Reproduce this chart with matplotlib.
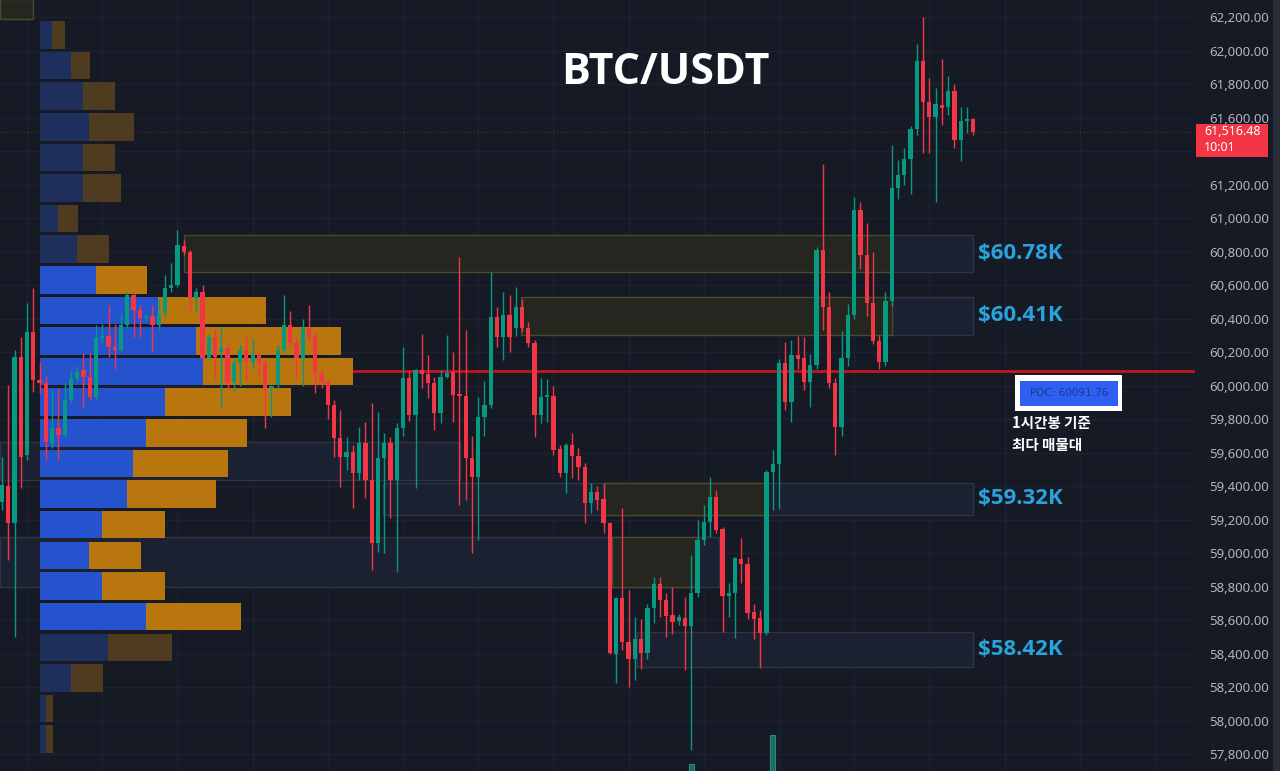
import matplotlib
matplotlib.use("Agg")
import matplotlib.pyplot as plt
import matplotlib.transforms as mtransforms
from matplotlib.patches import Rectangle

# ---- 1h candles (oldest -> newest) ----
opens = [59308, 59403, 59182, 60173, 59588, 60322, 60036, 60018, 59660, 59749,
         59707, 59916, 60048, 60095, 60054, 59934, 60287, 60299, 60233, 60215,
         60364, 60543, 60454, 60406, 60418, 60364, 60436, 60585, 60603, 60836,
         60800, 60525, 60561, 60167, 60293, 60203, 60227, 60024, 60137, 60215,
         60143, 60185, 60137, 59988, 60006, 60215, 60364, 60257, 60167, 60346,
         60293, 60078, 60024, 59887, 59690, 59576, 59606, 59481, 59660, 59439,
         59063, 59570, 59660, 59439, 59749, 60048, 59827, 60095, 60072, 60018,
         59839, 60054, 60084, 59952, 59940, 59570, 59457, 59815, 59887, 60412,
         60293, 60424, 60346, 60472, 60346, 60257, 59827, 59934, 59940, 59624,
         59481, 59648, 59582, 59516, 59301, 59367, 59325, 59182, 58400, 58734,
         58472, 58370, 58490, 58406, 58675, 58818, 58722, 58633, 58597, 58615,
         58567, 58764, 59081, 59188, 59337, 59146, 58746, 58764, 58967, 58937,
         58651, 58615, 58525, 59487, 59535, 60137, 59904, 60185, 60167, 60024,
         60125, 60812, 60472, 60018, 59755, 60167, 60424, 61051, 60782, 60496,
         60269, 60143, 60507, 61182, 61260, 61355, 61534, 61940, 61695, 61606,
         61677, 61665, 61761, 61468, 61582, 61594]
highs = [59576, 60006, 60215, 60293, 60496, 60585, 60140, 60060, 59976, 59988,
         60018, 60095, 60120, 60197, 60197, 60364, 60370, 60484, 60370, 60436,
         60561, 60561, 60484, 60430, 60484, 60520, 60663, 60734, 60931, 60872,
         60812, 60585, 60603, 60310, 60340, 60352, 60257, 60160, 60245, 60300,
         60280, 60200, 60160, 60006, 60245, 60543, 60450, 60290, 60400, 60484,
         60330, 60100, 60040, 59916, 59857, 59696, 59648, 59755, 59785, 59898,
         59845, 59720, 59696, 59779, 60233, 60090, 60100, 60311, 60185, 60054,
         60095, 60305, 60203, 60770, 60334, 59700, 59934, 60030, 60680, 60472,
         60561, 60540, 60591, 60520, 60380, 60275, 60048, 60040, 60000, 59648,
         59660, 59720, 59630, 59540, 59421, 59403, 59421, 59190, 58740, 59272,
         58782, 58621, 58609, 58700, 58860, 58860, 58764, 58800, 58640, 58740,
         58991, 59200, 59290, 59457, 59380, 59158, 58824, 58980, 59093, 58980,
         58700, 58663, 59500, 59620, 60161, 60263, 60275, 60300, 60293, 60191,
         60830, 61325, 60560, 60048, 60330, 60490, 61128, 61100, 60970, 60800,
         60305, 60560, 61440, 61350, 61420, 61552, 62042, 62203, 61839, 61780,
         61950, 61850, 61800, 61665, 61665, 61600]
lows = [59260, 58961, 58501, 59391, 59560, 59964, 59960, 59558, 59630, 59558,
        59695, 59898, 60030, 59875, 59916, 59916, 60257, 60173, 60100, 60200,
        60346, 60293, 60293, 60390, 60203, 60340, 60420, 60560, 60590, 60782,
        60454, 60442, 60155, 60160, 60050, 59870, 59988, 59970, 60000, 60030,
        60100, 60060, 59750, 59815, 59990, 60200, 60240, 60050, 60000, 60270,
        59960, 59990, 59800, 59576, 59397, 59499, 59272, 59440, 59331, 58902,
        59009, 59000, 59212, 58890, 59700, 59790, 59391, 59990, 59930, 59737,
        59779, 60048, 59785, 59290, 59320, 59003, 59080, 59700, 59870, 60233,
        60155, 60200, 60300, 60320, 60230, 59696, 59779, 59785, 59590, 59457,
        59361, 59450, 59439, 59182, 59242, 59260, 59122, 58400, 58227, 58424,
        58203, 58245, 58310, 58370, 58585, 58620, 58501, 58520, 58570, 58305,
        57827, 58740, 59050, 59100, 59120, 58531, 58621, 58495, 58824, 58610,
        58490, 58317, 58510, 59260, 59266, 59857, 59785, 60100, 59976, 59875,
        60100, 60334, 59990, 59588, 59700, 60120, 60400, 60700, 60420, 60250,
        60100, 60120, 60480, 61116, 61200, 61146, 61500, 61391, 61391, 61100,
        61560, 61620, 61420, 61343, 61510, 61500]
closes = [59409, 59182, 60173, 59576, 60322, 60036, 60015, 59666, 59749, 59707,
          59916, 60048, 60084, 60054, 59934, 60287, 60299, 60233, 60215, 60364,
          60543, 60454, 60406, 60412, 60364, 60424, 60585, 60603, 60842, 60800,
          60525, 60561, 60167, 60293, 60173, 60227, 60018, 60137, 60215, 60143,
          60185, 60137, 59988, 60000, 60215, 60364, 60257, 60167, 60346, 60293,
          60078, 60024, 59887, 59690, 59576, 59606, 59481, 59660, 59439, 59063,
          59570, 59660, 59439, 59749, 60048, 59827, 60095, 60072, 60018, 59839,
          60054, 60078, 59946, 59940, 59570, 59457, 59815, 59887, 60412, 60293,
          60424, 60293, 60472, 60346, 60257, 59827, 59934, 59946, 59618, 59481,
          59648, 59582, 59516, 59301, 59367, 59320, 59182, 58406, 58734, 58472,
          58370, 58490, 58406, 58675, 58818, 58722, 58627, 58591, 58621, 58567,
          58764, 59081, 59188, 59337, 59140, 58746, 58764, 58973, 58937, 58645,
          58609, 58525, 59487, 59535, 60137, 59904, 60185, 60161, 60024, 60125,
          60812, 60472, 60018, 59755, 60167, 60424, 61051, 60782, 60496, 60269,
          60143, 60507, 61182, 61260, 61355, 61534, 61940, 61695, 61606, 61683,
          61660, 61761, 61468, 61582, 61594, 61516.48]

# volume pane (only the two tallest bars reach into view)
vol_idx = [110, 123]
vol_val = [190, 1000]

# ---- volume profile (bins from bottom to top) ----
vp_low = [57800, 57983, 58166, 58348, 58531, 58714, 58897, 59080, 59262, 59445,
          59628, 59811, 59994, 60176, 60359, 60542, 60725, 60908, 61090, 61273,
          61456, 61639, 61822, 62004]
vp_buy = [6, 6, 31, 68, 106, 62, 49, 62, 87, 93, 106, 125,
          163, 156, 118, 56, 37, 18, 43, 43, 49, 43, 31, 12]
vp_sell = [7, 7, 32, 64, 95, 63, 52, 63, 89, 95, 101, 126,
           150, 145, 108, 51, 32, 20, 38, 32, 45, 32, 19, 13]
value_area = (4, 15)   # bins inside the value area (bright)
poc_price = 60091.76

# ---- supply / demand zones ----
zone_start = [-0.32, -0.32, 60.8, -0.32, 101.4, 142.1, 142.1, 29.05, 82.8, 96.1, 97.4]
zone_end = [4.95, 73.1, 155, 114.4, 155, 155, 155, 142.1, 142.1, 122.1, 110.9]
zone_low = [62190, 59439, 59230, 58800, 58322, 60681, 60304, 60681, 60304, 59230, 58800]
zone_high = [62310, 59666, 59421, 59099, 58531, 60901, 60531, 60901, 60531, 59421, 59099]
zone_kind = ['olive', 'blue', 'blue', 'blue', 'blue', 'blue', 'blue',
             'olive', 'olive', 'olive', 'olive']

level_text = ['$60.78K', '$60.41K', '$59.32K', '$58.42K']
level_price = [60790, 60418, 59325, 58427]

price_ticks = list(range(57800, 62201, 200))

BG = '#161a25'
GREEN, RED = '#089981', '#f23645'

fig = plt.figure(figsize=(12.8, 7.71), dpi=100, facecolor=BG)
ax = fig.add_axes([0, 0, 1195 / 1280, 1])
ax.set_facecolor(BG)
ax.set_xlim(-0.32, 190.4)
ax.set_ylim(57701, 62304)
for s in ax.spines.values():
    s.set_visible(False)

last_close = closes[-1]
ax.set_xticks(range(4, 190, 12))
ax.set_yticks(price_ticks)
# the tick sitting under the last-price tag is left blank
ax.set_yticklabels(["" if -150 < p - last_close < 0 else f"{p:,.2f}" for p in price_ticks],
                   family='Noto Sans')
ax.yaxis.tick_right()
ax.tick_params(axis='x', length=0, labelbottom=False)
ax.tick_params(axis='y', length=0, pad=10, labelcolor='#b2b5be', labelsize=9.5)
ax.grid(color='#1e2230', lw=1)
ax.set_axisbelow(True)

# zones
zone_fc = {'olive': '#24261f', 'blue': '#1b2130'}
zone_ec = {'olive': '#4a4a2e', 'blue': '#2d3547'}
for x0, x1, lo, hi, k in zip(zone_start, zone_end, zone_low, zone_high, zone_kind):
    ax.add_patch(Rectangle((x0, lo), x1 - x0, hi - lo, fc=zone_fc[k], ec=zone_ec[k],
                           lw=1, zorder=1.5))
for t, p in zip(level_text, level_price):
    ax.text(155.8, p, t, color='#27a3dd', fontsize=16, fontweight='bold',
            family='Open Sans', va='center', ha='left', zorder=8)

# current price dotted line + POC line
ax.axhline(last_close, color=RED, lw=0.8, ls=(0, (1, 2)), alpha=0.35, zorder=2)
profile_left = 6.07
ax.hlines(poc_price, profile_left, 190.4, color='#c4151d', lw=2, zorder=3)

# volume profile
vol_to_slot = 1 / 6.265
bin_h = 182.8
for j, (lo, b, s) in enumerate(zip(vp_low, vp_buy, vp_sell)):
    bright = value_area[0] <= j <= value_area[1]
    cb = '#2453cd' if bright else '#1e2f5b'
    cs = '#b9760e' if bright else '#4f3b1f'
    ax.barh(lo + bin_h * 0.05, b * vol_to_slot, left=profile_left, height=bin_h * 0.9,
            align='edge', color=cb, lw=0, zorder=4)
    ax.barh(lo + bin_h * 0.05, s * vol_to_slot, left=profile_left + b * vol_to_slot,
            height=bin_h * 0.9, align='edge', color=cs, lw=0, zorder=4)

# candles
idx = list(range(len(closes)))
cols = [GREEN if c >= o else RED for o, c in zip(opens, closes)]
ax.vlines(idx, lows, highs, colors=cols, lw=1, zorder=5)
body_lo = [min(o, c) for o, c in zip(opens, closes)]
body_h = [max(abs(c - o), 8) for o, c in zip(opens, closes)]
ax.bar(idx, body_h, bottom=body_lo, width=0.68, color=cols, lw=0, zorder=6)

# volume bars peeking in at the bottom
axv = fig.add_axes(ax.get_position(), sharex=ax)
axv.patch.set_visible(False)
axv.axis('off')
axv.set_ylim(0, 21400)
axv.bar(vol_idx, vol_val, width=0.75, color='#1c6a61', ec='#2b8b7f', lw=0.8)

# POC label
ax.add_patch(Rectangle((161.7, 59851), 17.1, 215, fc='white', ec='none', zorder=8))
ax.add_patch(Rectangle((162.5, 59881), 15.6, 149, fc='#2f5ff2', ec='none', zorder=9))
ax.text(170.3, 59955, f"POC: {poc_price:.2f}", color='#1c3a8e', fontsize=7.5,
        ha='center', va='center', zorder=10)
ax.text(161.2, 59828, "1시간봉 기준\n최다 매물대", color='white', fontsize=10.5,
        fontweight='bold', family=['Noto Sans CJK KR', 'DejaVu Sans'],
        va='top', ha='left', linespacing=1.45, zorder=10)

# last price tag on the axis
trans = mtransforms.blended_transform_factory(ax.transAxes, ax.transData)
ax.add_patch(Rectangle((1 + 1 / 1195, last_close - 149), 72 / 1195, 197, transform=trans,
                       fc=RED, ec='none', clip_on=False, zorder=10))
ax.text(1 + 9 / 1195, last_close, f"{last_close:,.2f}", transform=trans, color='white',
        fontsize=9, fontweight='bold', family='Noto Sans', va='center', ha='left',
        clip_on=False, zorder=11)
ax.text(1 + 9 / 1195, last_close - 96, "10:01", transform=trans, color='white',
        fontsize=9, family='Noto Sans', va='center', ha='left', clip_on=False, zorder=11)

# scrollbar strip at the right edge
fig.add_artist(Rectangle((1273 / 1280, 0), 7 / 1280, 1, transform=fig.transFigure,
                         fc='#2a2e39', ec='none'))

fig.text(0.520, 0.9066, 'BTC/USDT', color='white', fontsize=31, fontweight='bold',
         family='Open Sans', ha='center', va='center')

fig.savefig('out.png', dpi=100, facecolor=BG)
